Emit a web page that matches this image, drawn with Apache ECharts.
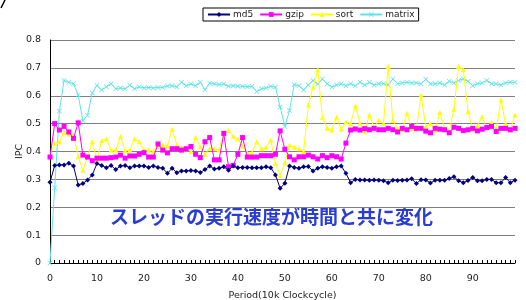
<!DOCTYPE html>
<html><head><meta charset="utf-8">
<script src="https://cdn.jsdelivr.net/npm/echarts@6/dist/echarts.min.js"></script>
<style>html,body{margin:0;padding:0;background:#fff}#c{width:526px;height:300px}</style>
</head><body><div id="c"></div>
<script>
var categories = [];
for (var k = 0; k < 100; k++) categories.push(String(k));
var yTicks = [0, 0.1, 0.2, 0.3, 0.4, 0.5, 0.6, 0.7, 0.8];
var seriesNames = ['md5', 'gzip', 'sort', 'matrix'];
var md5 = [0.29,0.35,0.352,0.352,0.358,0.348,0.28,0.285,0.298,0.316,
0.357,0.35,0.342,0.35,0.335,0.348,0.35,0.342,0.348,0.348,
0.348,0.343,0.348,0.343,0.34,0.322,0.34,0.324,0.33,0.33,
0.332,0.33,0.325,0.335,0.348,0.337,0.34,0.345,0.333,0.348,
0.342,0.343,0.343,0.342,0.342,0.342,0.345,0.342,0.316,0.268,
0.286,0.348,0.343,0.34,0.345,0.346,0.33,0.34,0.345,0.343,
0.34,0.345,0.348,0.322,0.288,0.3,0.298,0.298,0.297,0.298,
0.297,0.295,0.288,0.297,0.296,0.297,0.298,0.302,0.285,0.299,
0.298,0.287,0.297,0.297,0.297,0.303,0.309,0.295,0.288,0.296,
0.307,0.295,0.295,0.3,0.3,0.288,0.288,0.307,0.288,0.297];
var gzip = [0.38,0.5,0.477,0.49,0.47,0.447,0.503,0.387,0.38,0.367,
0.376,0.376,0.376,0.378,0.38,0.387,0.376,0.384,0.384,0.39,
0.396,0.38,0.38,0.427,0.405,0.395,0.41,0.41,0.405,0.41,
0.418,0.39,0.378,0.435,0.45,0.37,0.37,0.465,0.345,0.35,
0.39,0.45,0.38,0.38,0.38,0.385,0.385,0.385,0.39,0.474,
0.408,0.381,0.37,0.381,0.381,0.387,0.381,0.373,0.385,0.378,
0.385,0.381,0.373,0.43,0.477,0.481,0.477,0.482,0.478,0.483,
0.478,0.478,0.483,0.478,0.47,0.483,0.478,0.49,0.483,0.483,
0.473,0.467,0.483,0.48,0.478,0.467,0.487,0.483,0.475,0.478,
0.483,0.474,0.48,0.486,0.49,0.472,0.483,0.483,0.478,0.483];
var sort = [0.388,0.43,0.435,0.468,0.463,0.46,0.381,0.333,0.381,0.435,
0.37,0.439,0.445,0.405,0.405,0.453,0.403,0.405,0.445,0.435,
0.405,0.405,0.4,0.42,0.423,0.42,0.48,0.423,0.415,0.41,
0.4,0.45,0.417,0.39,0.412,0.41,0.405,0.467,0.475,0.455,
0.445,0.42,0.395,0.395,0.435,0.41,0.415,0.44,0.357,0.315,
0.36,0.423,0.415,0.41,0.4,0.567,0.631,0.693,0.523,0.483,
0.477,0.523,0.48,0.507,0.5,0.564,0.501,0.471,0.531,0.485,
0.513,0.501,0.705,0.511,0.483,0.478,0.537,0.483,0.48,0.603,
0.49,0.5,0.477,0.54,0.483,0.475,0.552,0.705,0.693,0.543,
0.48,0.492,0.525,0.485,0.504,0.478,0.585,0.499,0.477,0.531];
var matrix = [0.0,0.27,0.545,0.655,0.648,0.643,0.603,0.51,0.53,0.61,
0.637,0.621,0.632,0.643,0.625,0.628,0.625,0.638,0.625,0.632,
0.628,0.63,0.628,0.63,0.63,0.635,0.636,0.632,0.648,0.636,
0.642,0.636,0.648,0.621,0.645,0.642,0.64,0.642,0.634,0.636,
0.634,0.634,0.632,0.634,0.615,0.625,0.628,0.634,0.631,0.56,
0.49,0.547,0.64,0.636,0.621,0.639,0.655,0.642,0.66,0.643,
0.631,0.639,0.643,0.636,0.643,0.636,0.648,0.639,0.648,0.639,
0.643,0.643,0.639,0.66,0.643,0.646,0.648,0.646,0.646,0.643,
0.659,0.643,0.643,0.646,0.639,0.652,0.646,0.655,0.66,0.652,
0.636,0.643,0.646,0.655,0.643,0.643,0.639,0.646,0.648,0.648];
var annotation = 'スレッドの実行速度が時間と共に変化';
var xName = 'Period(10k Clockcycle)';
var yName = 'IPC';

var crossPath = 'path://M0,1L1,0L5,4L9,0L10,1L6,5L10,9L9,10L5,6L1,10L0,9L4,5Z';
var styles = [
  {color:'#000080', symbol:'diamond', size:5},
  {color:'#ff00ff', symbol:'rect', size:5},
  {color:'#ffff00', symbol:'triangle', size:5},
  {color:'#5fe3e8', symbol:crossPath, size:5}
];
var dataSets = [md5, gzip, sort, matrix];
var font = 'DejaVu Sans';
var chart = echarts.init(document.getElementById('c'));
chart.setOption({
  animation:false,
  backgroundColor:'#fff',
  textStyle:{fontFamily:font},
  legend:{
    top:8, left:203, itemWidth:22, itemHeight:6, itemGap:6,
    padding:[2,4,2,4], borderColor:'#000', borderWidth:1,
    textStyle:{fontSize:9, color:'#222', fontFamily:font, padding:[0,0,0,-2]},
    data:seriesNames
  },
  grid:{left:50, right:11, top:40, bottom:37, containLabel:false, outerBoundsMode:'none'},
  xAxis:{
    type:'category', data:categories, boundaryGap:false,
    name:xName, nameLocation:'middle', nameGap:28,
    nameTextStyle:{fontSize:9.5, color:'#222'},
    axisLine:{lineStyle:{color:'#000', width:1}},
    axisTick:{interval:0, length:3, inside:true, lineStyle:{color:'#000'}},
    axisLabel:{interval:9, fontSize:9.5, color:'#222', margin:11},
    splitLine:{show:false}
  },
  yAxis:{
    type:'value', min:0, max:0.8, interval:0.1,
    name:yName, nameLocation:'middle', nameGap:25, nameRotate:90, nameMoveOverlap:false,
    nameTextStyle:{fontSize:9.5, color:'#222'},
    axisLine:{show:true, lineStyle:{color:'#000'}},
    axisTick:{show:false},
    axisLabel:{fontSize:9.5, color:'#222', margin:9,
      formatter:function(v){return String(Math.round(v*10)/10);}},
    splitLine:{lineStyle:{color:'#7f7f7f', width:1}}
  },
  graphic:[
    {type:'text', left:110, top:207, style:{text:annotation, fill:'#2a3cd6',
      font:'bold 19px "Noto Sans CJK JP"'}},
    {type:'line', shape:{x1:5, y1:0, x2:1, y2:8}, style:{stroke:'#000', lineWidth:1.5}}
  ],
  series:dataSets.map(function(d,i){
    return {name:seriesNames[i], type:'line', data:d,
      symbol:styles[i].symbol, symbolSize:styles[i].size, showSymbol:true, showAllSymbol:true,
      lineStyle:{color:styles[i].color, width:1},
      itemStyle:{color:styles[i].color},
      z: i===0?5:(i===1?4:(i===2?3:2))};
  })
});
</script></body></html>
